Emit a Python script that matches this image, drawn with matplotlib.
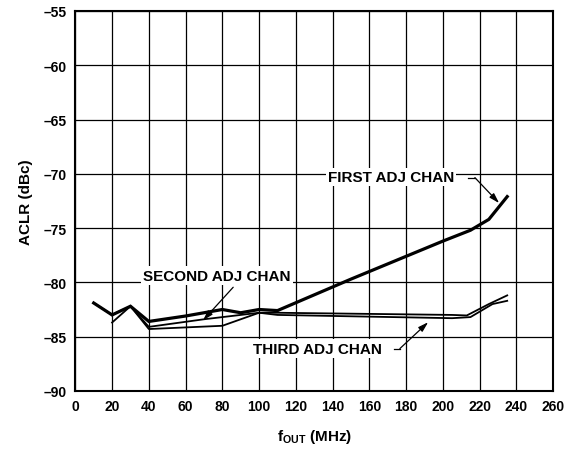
import matplotlib
matplotlib.use("Agg")
import matplotlib.pyplot as plt

plt.rcParams['font.family'] = ['Liberation Sans', 'DejaVu Sans']
plt.rcParams['font.weight'] = 'bold'
plt.rcParams['mathtext.fontset'] = 'custom'
plt.rcParams['mathtext.rm'] = 'Liberation Sans:bold'
plt.rcParams['mathtext.bf'] = 'Liberation Sans:bold'
plt.rcParams['mathtext.it'] = 'Liberation Sans:bold'

# Data (f_OUT in MHz, ACLR in dBc)
first_x = [10, 20, 30, 40, 60, 80, 90, 100, 110, 150, 200, 215, 225, 235]
first_y = [-81.9, -83.0, -82.2, -83.6, -83.1, -82.5, -82.8, -82.5, -82.6, -79.7, -76.2, -75.2, -74.2, -72.1]

second_x = [20, 30, 40, 70, 100, 110, 205, 213, 225, 235]
second_y = [-83.7, -82.2, -84.1, -83.4, -82.8, -82.8, -83.0, -83.05, -82.0, -81.2]

third_x = [10, 20, 30, 40, 80, 100, 110, 205, 215, 227, 235]
third_y = [-81.9, -83.0, -82.2, -84.3, -84.0, -82.8, -83.0, -83.3, -83.2, -82.0, -81.7]

xticks = list(range(0, 261, 20))
yticks = list(range(-90, -54, 5))

fig = plt.figure(figsize=(5.75, 4.6), dpi=100)
ax = fig.add_axes([0.131, 0.148, 0.831, 0.826])

ax.plot(first_x, first_y, color='black', lw=2.3, solid_joinstyle='miter', zorder=3)
ax.plot(second_x, second_y, color='black', lw=1.3, zorder=3)
ax.plot(third_x, third_y, color='black', lw=1.3, zorder=3)

ax.set_xlim(0, 260)
ax.set_ylim(-90, -55)
ax.set_xticks(xticks)
ax.set_yticks(yticks)
ax.set_yticklabels(['\u2013%d' % abs(v) for v in yticks])
ax.grid(True, color='black', lw=0.9)
ax.tick_params(length=0, labelsize=10)
ax.tick_params(axis='x', pad=6)
ax.tick_params(axis='y', pad=6)
for lbl in ax.get_xticklabels() + ax.get_yticklabels():
    lbl.set_fontweight('bold')
for s in ax.spines.values():
    s.set_linewidth(1.5)

ax.set_xlabel(r'f$_{\mathrm{OUT}}$ (MHz)', fontsize=11, fontweight='bold', labelpad=10)
ax.set_ylabel('ACLR (dBc)', fontsize=11, fontweight='bold', labelpad=8)

bbox = dict(facecolor='white', edgecolor='none', pad=1.5)
aprops = dict(arrowstyle='-|>,head_length=0.6,head_width=0.18', color='black', lw=0.9,
              shrinkA=0, shrinkB=0)

# FIRST ADJ CHAN
ax.text(171.7, -70.3, 'FIRST ADJ CHAN', ha='center', va='center', fontsize=11,
        fontweight='bold', bbox=bbox, zorder=4)
ax.plot([213.5, 217.4], [-70.35, -70.35], color='black', lw=0.9, zorder=4)
ax.annotate('', xy=(230.6, -72.7), xytext=(217.4, -70.35), arrowprops=aprops, zorder=4)

# SECOND ADJ CHAN
ax.text(77, -79.37, 'SECOND ADJ CHAN', ha='center', va='center', fontsize=11,
        fontweight='bold', bbox=bbox, zorder=4)
ax.annotate('', xy=(69.5, -83.5), xytext=(85.9, -80.45), arrowprops=aprops, zorder=4)

# THIRD ADJ CHAN
ax.text(132, -86.1, 'THIRD ADJ CHAN', ha='center', va='center', fontsize=11,
        fontweight='bold', bbox=bbox, zorder=4)
ax.plot([173.5, 176.6], [-86.1, -86.1], color='black', lw=0.9, zorder=4)
ax.annotate('', xy=(192, -83.67), xytext=(176.6, -86.1), arrowprops=aprops, zorder=4)

fig.savefig('out.png', dpi=100)
